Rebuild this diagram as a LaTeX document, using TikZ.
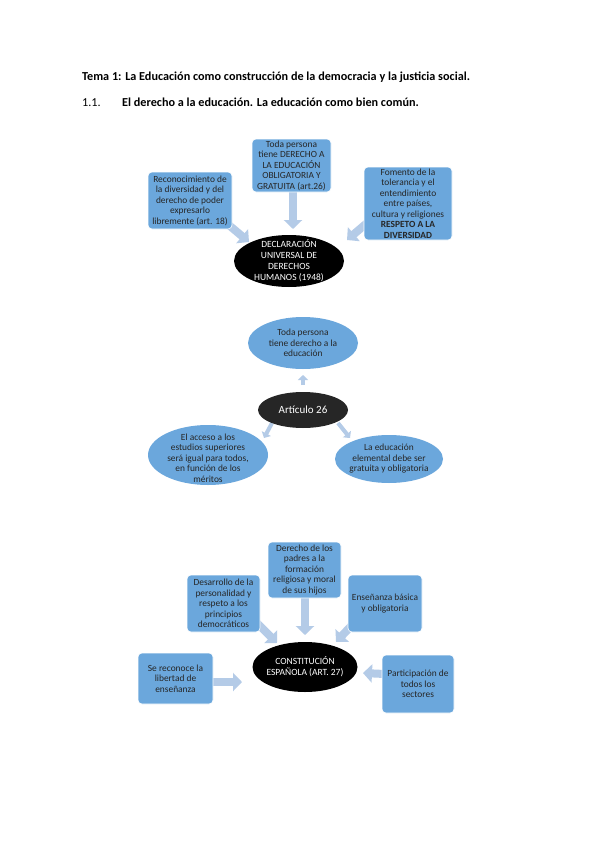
\documentclass[tikz,border=0pt]{standalone}
\usepackage{fontspec}
\setmainfont{Carlito}
\usetikzlibrary{arrows.meta,shapes.geometric}
\definecolor{boxblue}{HTML}{6BA7DC}
\definecolor{arrblue}{HTML}{B4CBE7}
\definecolor{darkell}{HTML}{262626}
\begin{document}
\begin{tikzpicture}[x=1pt,y=-1pt,
  boxtext/.style={font=\fontsize{9.4}{10.5}\selectfont, text=black!85, align=center},
  sbox/.style={rectangle, rounded corners=4pt, fill=boxblue, draw=white, line width=0.6pt, inner sep=0pt, boxtext},
  ellshape/.style={ellipse, inner sep=0pt, draw=none},
  darktext/.style={font=\fontsize{9.5}{11}\selectfont, text=white, align=center, inner sep=0pt},
  lighttext/.style={boxtext, inner sep=0pt},
  bigarr/.style={arrblue, line width=8pt, -{Triangle[width=18pt,length=9pt]}},
  smallarr/.style={arrblue, line width=4pt, -{Triangle[width=10pt,length=5pt]}},
  headtext/.style={font=\fontsize{12.2}{14}\selectfont, anchor=base west, inner sep=0pt}
]
\useasboundingbox[fill=white] (0,0) rectangle (599,848);

% headings
\node[headtext] (t1) at (82,81) {\textbf{Tema 1: La Educación como construcción de la democracia y la justicia social.}};
\node[headtext] (t2) at (82,107) {1.1.};
\node[headtext] (t3) at (122,107) {\textbf{El derecho a la educación. La educación como bien común.}};

% ---------- arrows (drawn first, behind shapes) ----------
\coordinate (a1s) at (224,221);
\coordinate (a1e) at (249,242);
\coordinate (a2s) at (293,190);
\coordinate (a2e) at (293,229);
\coordinate (a3s) at (367,223);
\coordinate (a3e) at (347,240);
\draw[bigarr] (a1s) -- (a1e);
\draw[bigarr] (a2s) -- (a2e);
\draw[bigarr] (a3s) -- (a3e);

\coordinate (s1s) at (303,385);
\coordinate (s1e) at (303,375);
\coordinate (s2s) at (272,423);
\coordinate (s2e) at (264,438);
\coordinate (s3s) at (338,423);
\coordinate (s3e) at (350,438);
\draw[smallarr] (s1s) -- (s1e);
\draw[smallarr] (s2s) -- (s2e);
\draw[smallarr] (s3s) -- (s3e);

\coordinate (c1s) at (256,622);
\coordinate (c1e) at (277,643);
\coordinate (c2s) at (305,596);
\coordinate (c2e) at (305,635);
\coordinate (c3s) at (353,624);
\coordinate (c3e) at (336,642);
\coordinate (c4s) at (211,682);
\coordinate (c4e) at (242,682);
\coordinate (c5s) at (385,674);
\coordinate (c5e) at (363,673);
\draw[bigarr] (c1s) -- (c1e);
\draw[bigarr] (c2s) -- (c2e);
\draw[bigarr] (c3s) -- (c3e);
\draw[bigarr] (c4s) -- (c4e);
\draw[bigarr] (c5s) -- (c5e);

% ---------- Diagram 1 ----------
\node[sbox, minimum width=84pt, minimum height=57pt] (b1l) at (190,200.5)
  {Reconocimiento de\\la diversidad y del\\derecho de poder\\expresarlo\\libremente (art. 18)};
\node[sbox, minimum width=79pt, minimum height=53pt] (b1m) at (291.5,165.5)
  {Toda persona\\tiene DERECHO A\\LA EDUCACIÓN\\OBLIGATORIA Y\\GRATUITA (art.26)};
\node[sbox, minimum width=88pt, minimum height=73pt] (b1r) at (408,203.5)
  {Fomento de la\\tolerancia y el\\entendimiento\\entre países,\\cultura y religiones\\\textbf{RESPETO A LA}\\\textbf{DIVERSIDAD}};
\node[ellshape, fill=black, minimum width=110pt, minimum height=52pt] (e1) at (289,261) {};
\node[darktext] (e1t) at (e1.center) {DECLARACIÓN\\UNIVERSAL DE\\DERECHOS\\HUMANOS (1948)};

% ---------- Diagram 2 ----------
\node[ellshape, fill=boxblue, minimum width=110pt, minimum height=52pt] (e2t) at (303,343) {};
\node[lighttext] (e2tt) at (e2t.center) {Toda persona\\tiene derecho a la\\educación};
\node[ellshape, fill=darkell, minimum width=90pt, minimum height=36pt] (e2c) at (303,410) {};
\node[darktext, font=\fontsize{11}{13}\selectfont] (e2ct) at (e2c.center) {Artículo 26};
\node[ellshape, fill=boxblue, minimum width=120pt, minimum height=60pt] (e2l) at (208,455) {};
\node[lighttext] (e2lt) at (208,458) {El acceso a los\\estudios superiores\\será igual para todos,\\en función de los\\méritos};
\node[ellshape, fill=boxblue, minimum width=108pt, minimum height=48pt] (e2r) at (389,459) {};
\node[lighttext] (e2rt) at (e2r.center) {La educación\\elemental debe ser\\gratuita y obligatoria};

% ---------- Diagram 3 ----------
\node[sbox, minimum width=73pt, minimum height=56pt] (b3tm) at (304.5,570)
  {Derecho de los\\padres a la\\formación\\religiosa y moral\\de sus hijos};
\node[sbox, minimum width=73pt, minimum height=57pt] (b3tl) at (223.5,603.5)
  {Desarrollo de la\\personalidad y\\respeto a los\\principios\\democráticos};
\node[sbox, minimum width=74pt, minimum height=57pt] (b3tr) at (385,603.5)
  {Enseñanza básica\\y obligatoria};
\node[sbox, minimum width=75pt, minimum height=51pt] (b3l) at (175.5,678.5)
  {Se reconoce la\\libertad de\\enseñanza};
\node[sbox, minimum width=72pt, minimum height=58pt] (b3r) at (418,684)
  {Participación de\\todos los\\sectores};
\node[ellshape, fill=black, minimum width=105pt, minimum height=50pt] (e3) at (305,667) {};
\node[darktext] (e3t) at (e3.center) {CONSTITUCIÓN\\ESPAÑOLA (ART. 27)};
\end{tikzpicture}
\end{document}
